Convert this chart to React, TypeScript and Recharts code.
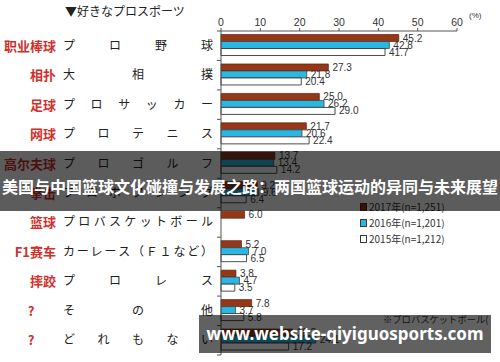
import { Bar, BarChart, LabelList, XAxis, YAxis } from 'recharts';

const cnLabels = ['职业棒球', '相扑', '足球', '网球', '高尔夫球', '拳击', '篮球', 'F1赛车', '摔跤', '?', '?'];
const jpLabels = [
  'プロ野球',
  '大相撲',
  'プロサッカー',
  'プロテニス',
  'プロゴルフ',
  'プロボクシング',
  'プロバスケットボール',
  'カーレース（Ｆ１など）',
  'プロレス',
  'その他',
  'どれもない',
];
const v2017 = [45.2, 27.3, 25.0, 21.7, 13.7, 9.2, 6.0, 5.2, 3.8, 7.8, 18.2];
const v2016 = [42.8, 21.8, 26.2, 20.6, 13.4, 9.6, null, 7.0, 4.7, 3.7, 24.1];
const v2015 = [41.7, 20.4, 29.0, 22.4, 14.2, 6.4, null, 6.5, 3.5, 5.8, 17.2];
const xTicks = [0, 10, 20, 30, 40, 50, 60];
const seriesNames = ['2017年(n=1,251)', '2016年(n=1,201)', '2015年(n=1,212)'];

const C2017 = '#963818';
const C2016 = '#2bb7e3';
const C2015 = '#ffffff';
const EDGE = '#3a3a3a';

const W = 500;
const H = 362;
const MARGIN = { top: 0, right: 43, bottom: 7, left: 0 };
const X_AXIS_H = 31;
const Y_AXIS_W = 221;
const BAND = (H - MARGIN.top - MARGIN.bottom - X_AXIS_H) / jpLabels.length;

const data = jpLabels.map((jp, i) => ({
  jp,
  v2017: v2017[i],
  v2016: v2016[i],
  v2015: v2015[i],
}));

const fmt = (v: any) => (v == null ? '' : Number(v).toFixed(1));

function CategoryTick(props: any) {
  const { y, payload } = props;
  const i = jpLabels.indexOf(payload.value);
  const cn = cnLabels[i];
  const chars = Array.from(jpLabels[i]);
  const step = chars.length > 1 ? 138 / (chars.length - 1) : 0;
  const q = cn === '?';
  return (
    <g>
      <text
        x={q ? 31 : 56}
        y={y}
        dy={5}
        textAnchor={q ? 'middle' : 'end'}
        fontSize={13}
        fontWeight={700}
        fill="#d0302c"
        fontFamily="'Noto Sans CJK SC', sans-serif"
      >
        {cn}
      </text>
      {chars.map((ch, k) => (
        <text
          key={k}
          x={69 + k * step}
          y={y}
          dy={4}
          textAnchor="middle"
          fontSize={12}
          fill="#222"
          fontFamily="'Noto Sans CJK JP', sans-serif"
        >
          {ch}
        </text>
      ))}
      <line x1={Y_AXIS_W - 4} x2={Y_AXIS_W} y1={y - BAND / 2} y2={y - BAND / 2} stroke="#555" />
      {i === jpLabels.length - 1 && (
        <line x1={Y_AXIS_W - 4} x2={Y_AXIS_W} y1={y + BAND / 2} y2={y + BAND / 2} stroke="#555" />
      )}
    </g>
  );
}

const labelProps = {
  position: 'right' as const,
  offset: 4,
  fontSize: 10,
  fill: '#333',
  fontFamily: "'Liberation Sans', Arial, sans-serif",
  formatter: fmt,
};

export default function App() {
  return (
    <div style={{ position: 'relative', width: W, height: H, background: '#fff', overflow: 'hidden' }}>
      <style>{'body{margin:0}'}</style>
      <BarChart
        width={W}
        height={H}
        data={data}
        layout="vertical"
        margin={MARGIN}
        barCategoryGap={3.5}
        barGap={0}
      >
        <XAxis
          type="number"
          orientation="top"
          domain={[0, 60]}
          ticks={xTicks}
          height={X_AXIS_H}
          tickSize={3}
          tickMargin={2}
          axisLine={{ stroke: '#555' }}
          tickLine={{ stroke: '#555' }}
          tick={{ fontSize: 10.5, fill: '#333', fontFamily: "'Liberation Sans', Arial, sans-serif" }}
        />
        <YAxis
          type="category"
          dataKey="jp"
          width={Y_AXIS_W}
          axisLine={{ stroke: '#555' }}
          tickLine={false}
          interval={0}
          tick={<CategoryTick />}
        />
        <Bar dataKey="v2017" fill={C2017} stroke="#5a2310" strokeWidth={0.7} isAnimationActive={false}>
          <LabelList dataKey="v2017" {...labelProps} />
        </Bar>
        <Bar dataKey="v2016" fill={C2016} stroke={EDGE} strokeWidth={0.7} isAnimationActive={false}>
          <LabelList dataKey="v2016" {...labelProps} />
        </Bar>
        <Bar dataKey="v2015" fill={C2015} stroke={EDGE} strokeWidth={0.9} isAnimationActive={false}>
          <LabelList dataKey="v2015" {...labelProps} />
        </Bar>
        <text x={65} y={16} fontSize={12} fill="#222" fontFamily="'Noto Sans CJK JP', sans-serif">
          ▼好きなプロスポーツ
        </text>
        <text x={469} y={18} fontSize={8} fill="#333" fontFamily="'Liberation Sans', Arial, sans-serif">
          (%)
        </text>
        <text x={383} y={323} fontSize={9.3} fill="#333" fontFamily="'Noto Sans CJK JP', sans-serif">
          ※プロバスケットボール(
        </text>
      </BarChart>

      {/* legend */}
      <div
        style={{
          position: 'absolute',
          left: 360,
          top: 199,
          fontFamily: "'Noto Sans CJK JP', sans-serif",
          fontSize: 10,
          color: '#333',
          lineHeight: '16px',
        }}
      >
        {seriesNames.map((name, i) => (
          <div key={name} style={{ display: 'flex', alignItems: 'center' }}>
            <span
              style={{
                display: 'inline-block',
                width: 5,
                height: 6,
                marginRight: 2,
                background: [C2017, C2016, C2015][i],
                border: `1px solid ${i === 0 ? '#5a2310' : EDGE}`,
              }}
            />
            {name}
          </div>
        ))}
      </div>

      {/* overlay banners */}
      <div
        style={{
          position: 'absolute',
          left: 0,
          top: 151,
          width: W,
          height: 60,
          background: 'rgba(0,0,0,0.64)',
          color: '#fff',
          fontFamily: "'Noto Sans CJK SC', sans-serif",
          fontWeight: 700,
          fontSize: 16,
          lineHeight: '16px',
          textAlign: 'center',
          whiteSpace: 'nowrap',
        }}
      >
        <div style={{ paddingTop: 27 }}>美国与中国篮球文化碰撞与发展之路：两国篮球运动的异同与未来展望</div>
      </div>
      <div
        style={{
          position: 'absolute',
          left: 199,
          top: 315,
          width: 292,
          height: 38,
          background: 'rgba(0,0,0,0.62)',
          color: '#fff',
          fontFamily: "'Noto Sans', sans-serif",
          fontWeight: 700,
          fontSize: 17,
          lineHeight: '38px',
          textAlign: 'center',
          whiteSpace: 'nowrap',
        }}
      >
        www.website-qiyiguosports.com
      </div>
    </div>
  );
}
